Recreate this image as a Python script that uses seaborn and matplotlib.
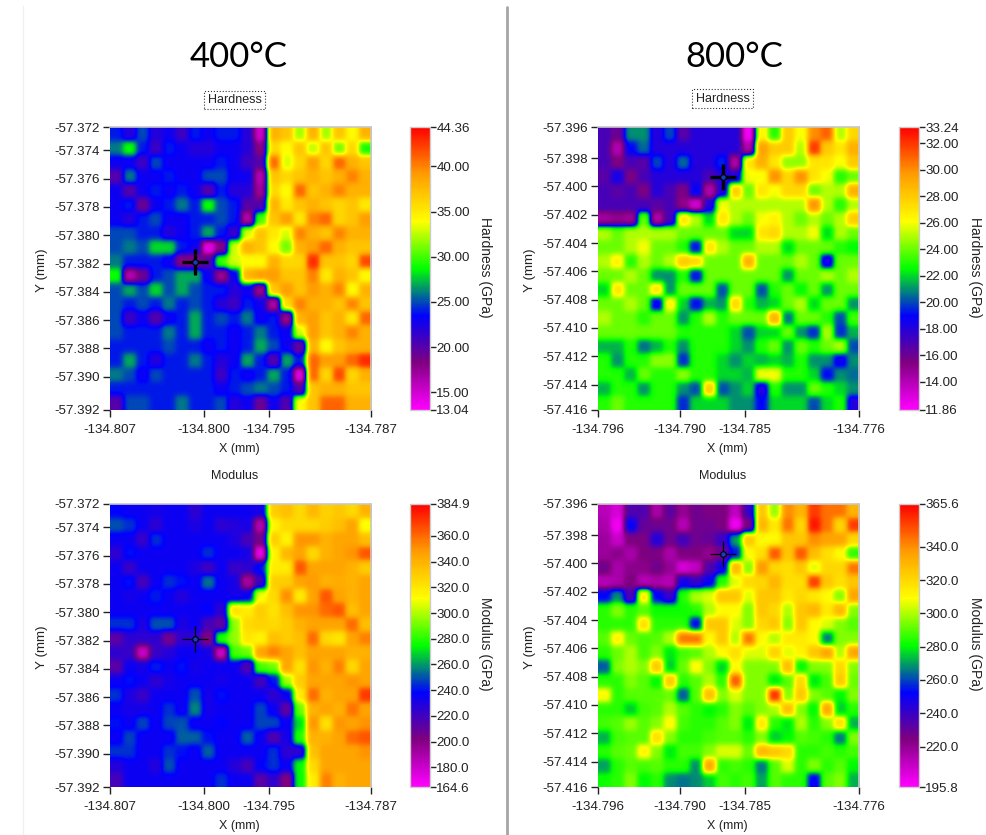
#!/usr/bin/env python3
"""Hardness and modulus maps at 400 and 800 C, nanoindentation style."""
import matplotlib.pyplot as plt
import numpy as np
import seaborn as sns
from matplotlib.colors import LinearSegmentedColormap
from matplotlib.lines import Line2D

WIDTH, HEIGHT = 986, 835

# values per cell, top row first
hardness_400 = [
    [24, 22, 25, 22, 23, 21, 24, 23, 24, 24, 22, 15, 38, 37, 32, 38, 32, 37, 34, 38],
    [26, 29, 24, 21, 24, 23, 22, 22, 23, 23, 22, 18, 36, 34, 37, 32.5, 37, 31, 36, 29],
    [23, 23, 21, 25, 23, 23, 23, 23, 24, 23, 21, 20, 41, 33, 36, 39, 36, 41, 38, 37],
    [20, 26, 23, 23, 24, 23, 23, 25, 25, 23, 23, 16, 37, 36, 37, 38, 37, 38, 40, 38],
    [23, 20, 23, 24, 23, 24, 23, 20, 24, 22, 22, 17, 36, 34, 41, 37, 38, 40, 38, 38],
    [23, 24, 19, 23, 24, 26, 24, 29, 25, 24, 20, 20, 38, 35, 37, 38, 37, 36, 37, 35],
    [23, 22, 24, 25, 23, 23, 24, 24, 25, 24, 16, 30, 37, 39, 35, 40, 41, 36, 37, 39],
    [25, 25, 24, 24, 22, 23, 24, 27, 24, 21, 33, 37, 35, 33, 40, 38, 37, 40, 38, 38],
    [25, 26, 25, 28, 28, 24, 23, 14, 18, 33, 38, 37, 34, 31, 38, 39, 41, 38, 37, 37],
    [26, 24, 24, 24, 23, 18, 18, 20, 30, 33, 34, 34, 38, 36, 36, 43, 37, 37, 36, 42],
    [29, 16, 19, 24, 25, 27, 27, 23, 17, 23, 38, 39, 39, 37, 37, 40, 35, 38, 37, 34],
    [25, 27, 25, 28, 25, 27, 25, 24, 24, 22, 23, 17, 37, 39, 37, 39, 38, 40, 34, 38],
    [25, 24, 25, 24, 26, 24, 25, 24, 22, 21, 24, 23, 16, 36, 40, 38, 38, 37, 40, 37],
    [25, 21, 23, 20, 23, 24, 27, 24, 25, 24, 26, 23, 24, 17, 38, 39, 37, 38, 35, 41],
    [25, 24, 24, 24, 26, 24, 27, 24, 24, 23, 24, 26, 24, 23, 33, 39, 37, 38, 40, 38],
    [24, 24, 24, 24, 25, 24, 24, 23, 24, 23, 24, 27, 25, 23, 19, 38, 34, 37, 38, 38],
    [24, 27, 24, 22, 24, 24, 26, 24, 22, 23, 27, 24, 20, 27, 24, 41, 39, 39, 41, 43],
    [26, 25, 23, 25, 24, 24, 24, 24, 21, 24, 23, 24, 27, 24, 14, 41, 36, 42, 36, 38],
    [24, 24, 24, 24, 24, 24, 24, 24, 23, 24, 25, 26, 25, 24, 20, 37, 38, 38, 37, 37],
    [20, 25, 25, 24, 24, 26, 24, 24, 25, 22, 23, 19, 23, 20, 34, 37, 41, 41, 38, 38],
]
hardness_800 = [
    [17, 16, 21, 21, 18, 20, 16.5, 18, 18, 18, 18, 12, 26.5, 23, 28, 26, 30, 31, 25, 27.5],
    [17, 14, 19, 20.5, 18, 18, 18, 18, 18, 18, 18, 14, 29.5, 28, 28, 25, 32, 28, 27, 29],
    [17, 15.5, 17, 16.5, 20, 18, 20.5, 18, 18, 19.5, 14, 27, 29, 27, 24.5, 24.5, 27, 27, 26, 28],
    [16.5, 18.5, 15.5, 17, 18, 18, 18, 18, 17, 18, 18, 26, 26, 30, 27.5, 30, 27, 26, 23, 24],
    [17, 16.5, 17, 15.5, 18, 17, 15.5, 19, 14, 18, 28, 24, 27, 26, 27.5, 27.5, 24, 25, 25, 29],
    [17, 17, 17, 17, 16.5, 17, 15, 13, 18, 26, 25, 25, 25, 25, 25, 25, 30, 25, 23, 25],
    [14.5, 15, 14.5, 24, 14, 17, 27, 25, 22, 27, 25, 24, 26, 26.5, 25, 24, 25, 24, 25, 28],
    [25, 24, 25, 25, 25, 25, 24, 24, 24, 24, 22, 22, 27, 27.5, 25, 25, 26, 22, 25, 24],
    [24, 24, 25, 26, 24, 24, 23, 19, 27, 25, 24, 24, 25, 25, 22, 24, 24, 24, 23, 22.5],
    [25, 26.5, 23, 25, 24, 25, 28, 27.5, 24, 24, 24, 29, 24, 24, 24, 25, 24, 18, 24, 24],
    [24, 24, 25, 24, 21, 21, 23, 19, 24, 24, 24, 24, 24, 24, 21, 24, 24, 25, 24, 25],
    [22, 27, 24, 24, 27, 21, 24, 24, 24, 20, 24, 24, 20, 23, 24, 22.5, 24, 21, 24, 24],
    [24, 24, 25, 24, 18.5, 26.5, 22, 19, 21.5, 21, 27.5, 23, 21.5, 22, 24, 25, 22, 24, 24, 21],
    [25, 24, 24, 23, 24, 24, 21, 23, 25, 23, 24, 24, 24, 29, 20.5, 24, 24, 23, 20, 23.5],
    [24, 24, 24, 24, 24, 24, 23, 23, 23, 23, 22, 20, 22, 22, 24, 21, 19.5, 25, 19.5, 21.5],
    [21.5, 21.5, 23, 20.5, 21.5, 23, 21, 23, 23, 23, 22, 21, 23, 24, 21, 24, 23, 24, 25, 20],
    [23, 21, 23, 23, 24.5, 24.5, 19.5, 23, 23, 22, 21, 22, 21.5, 22, 21.5, 23, 21, 21, 18.5, 21],
    [23, 23, 21.5, 24, 23, 23, 24.5, 23, 23, 22, 22, 21.5, 26, 26, 23, 23, 22, 19, 21, 20.5],
    [21.5, 23, 23, 21, 23, 23, 21, 20, 28, 20, 21, 22, 18, 23, 21, 21, 24, 23, 22, 21],
    [23, 24, 23, 23, 23, 23, 19.5, 22, 22, 22, 21, 21, 19, 22, 22, 22, 20, 22, 23, 18],
]
modulus_400 = [
    [238, 235, 235, 232, 235, 235, 225, 235, 235, 235, 235, 232, 330, 335, 325, 338, 328, 332, 325, 340],
    [250, 245, 235, 225, 235, 235, 230, 235, 225, 228, 232, 185, 315, 325, 325, 325, 330, 335, 345, 310],
    [235, 235, 222, 245, 235, 235, 235, 235, 235, 230, 218, 205, 330, 315, 350, 350, 340, 345, 345, 335],
    [225, 240, 235, 235, 235, 235, 235, 245, 235, 235, 232, 170, 315, 338, 345, 325, 340, 345, 350, 365],
    [235, 222, 235, 235, 235, 235, 230, 220, 235, 222, 225, 240, 318, 318, 365, 345, 345, 345, 340, 330],
    [235, 240, 218, 235, 245, 240, 235, 255, 235, 232, 190, 220, 330, 330, 345, 348, 340, 342, 340, 345],
    [235, 232, 235, 242, 235, 228, 235, 235, 235, 232, 235, 310, 325, 352, 318, 345, 365, 345, 340, 345],
    [235, 235, 235, 235, 235, 235, 235, 238, 225, 322, 318, 330, 322, 335, 350, 350, 360, 365, 335, 345],
    [245, 245, 230, 250, 250, 230, 235, 218, 210, 295, 325, 328, 325, 330, 340, 345, 345, 345, 360, 335],
    [212, 225, 225, 225, 205, 225, 225, 200, 280, 295, 320, 315, 335, 330, 335, 360, 325, 320, 345, 355],
    [225, 222, 180, 222, 228, 235, 235, 232, 178, 285, 290, 345, 355, 345, 335, 345, 345, 345, 340, 340],
    [212, 235, 232, 242, 235, 240, 232, 235, 235, 235, 215, 285, 290, 345, 322, 350, 340, 355, 325, 345],
    [235, 240, 235, 225, 232, 235, 235, 235, 232, 235, 235, 218, 240, 298, 330, 345, 345, 345, 350, 345],
    [245, 230, 222, 235, 235, 235, 250, 232, 240, 235, 235, 235, 225, 235, 318, 360, 340, 345, 345, 372],
    [235, 232, 232, 235, 245, 235, 258, 232, 235, 235, 235, 248, 235, 210, 290, 340, 345, 340, 358, 345],
    [240, 235, 248, 235, 248, 250, 235, 235, 238, 235, 235, 248, 248, 235, 270, 350, 322, 350, 345, 350],
    [235, 248, 235, 235, 235, 252, 252, 240, 235, 235, 252, 235, 215, 232, 280, 340, 340, 345, 360, 365],
    [245, 245, 235, 235, 245, 240, 235, 252, 235, 235, 235, 235, 245, 225, 225, 335, 345, 345, 345, 350],
    [228, 235, 235, 228, 250, 235, 235, 235, 235, 228, 218, 238, 245, 235, 275, 325, 345, 345, 345, 345],
    [218, 235, 235, 235, 235, 235, 235, 235, 245, 235, 235, 212, 225, 200, 275, 318, 355, 340, 345, 345],
]
modulus_800 = [
    [212, 205, 235, 235, 215, 232, 220, 228, 225, 225, 210, 240, 325, 297, 340, 330, 355, 345, 345, 330],
    [215, 198, 252, 230, 228, 228, 212, 228, 228, 225, 198, 225, 330, 315, 345, 320, 362, 345, 320, 355],
    [218, 208, 225, 225, 245, 228, 238, 228, 230, 240, 270, 325, 310, 310, 325, 325, 340, 335, 335, 320],
    [218, 222, 215, 225, 225, 215, 225, 225, 220, 228, 255, 310, 318, 350, 325, 350, 328, 318, 310, 285],
    [228, 215, 222, 222, 228, 220, 205, 210, 235, 248, 330, 295, 338, 320, 318, 325, 305, 320, 320, 345],
    [212, 215, 225, 212, 215, 212, 248, 240, 250, 285, 305, 320, 320, 330, 318, 318, 355, 325, 318, 325],
    [252, 268, 235, 315, 252, 240, 285, 300, 305, 325, 325, 305, 325, 325, 315, 320, 315, 310, 295, 335],
    [285, 295, 285, 290, 282, 282, 282, 285, 300, 310, 310, 295, 325, 320, 300, 325, 330, 315, 330, 295],
    [285, 285, 285, 318, 285, 285, 285, 252, 325, 325, 305, 295, 320, 325, 295, 325, 310, 305, 295, 290],
    [290, 312, 292, 288, 290, 300, 345, 345, 310, 325, 300, 345, 310, 300, 315, 315, 310, 265, 295, 295],
    [285, 292, 300, 288, 295, 278, 288, 290, 300, 310, 318, 305, 305, 322, 305, 312, 325, 335, 300, 335],
    [262, 295, 300, 295, 325, 275, 292, 310, 295, 275, 310, 295, 295, 295, 328, 280, 295, 295, 320, 295],
    [285, 285, 295, 290, 280, 325, 285, 290, 300, 285, 350, 295, 295, 278, 290, 320, 278, 288, 325, 292],
    [310, 285, 290, 290, 290, 292, 262, 290, 328, 295, 305, 295, 295, 358, 295, 325, 295, 290, 280, 295],
    [285, 285, 275, 288, 290, 300, 290, 285, 280, 285, 295, 290, 295, 300, 328, 295, 280, 335, 275, 285],
    [288, 290, 298, 290, 295, 310, 288, 285, 285, 290, 295, 278, 315, 285, 278, 300, 285, 295, 318, 272],
    [272, 288, 290, 290, 318, 295, 285, 285, 288, 290, 290, 285, 295, 275, 280, 290, 288, 285, 265, 295],
    [285, 290, 292, 312, 295, 278, 288, 288, 295, 305, 305, 292, 330, 325, 320, 285, 285, 288, 285, 288],
    [270, 285, 290, 288, 290, 285, 285, 268, 335, 285, 288, 285, 265, 290, 305, 285, 295, 285, 290, 280],
    [282, 285, 295, 280, 285, 268, 265, 268, 275, 288, 285, 288, 270, 290, 285, 285, 250, 290, 295, 272],
]

# colour scale ends
range_h400 = (13.04, 44.36)
range_h800 = (11.86, 33.24)
range_m400 = (164.6, 384.9)
range_m800 = (195.8, 365.6)

cbar_ticks_h400 = [13.04, 15, 20, 25, 30, 35, 40, 44.36]
cbar_labels_h400 = ["13.04", "15.00", "20.00", "25.00", "30.00", "35.00", "40.00", "44.36"]
cbar_ticks_h800 = [11.86, 14, 16, 18, 20, 22, 24, 26, 28, 30, 32, 33.24]
cbar_labels_h800 = ["11.86", "14.00", "16.00", "18.00", "20.00", "22.00", "24.00", "26.00",
                    "28.00", "30.00", "32.00", "33.24"]
cbar_ticks_m400 = [164.6, 180, 200, 220, 240, 260, 280, 300, 320, 340, 360, 384.9]
cbar_labels_m400 = ["164.6", "180.0", "200.0", "220.0", "240.0", "260.0", "280.0", "300.0",
                    "320.0", "340.0", "360.0", "384.9"]
cbar_ticks_m800 = [195.8, 220, 240, 260, 280, 300, 320, 340, 365.6]
cbar_labels_m800 = ["195.8", "220.0", "240.0", "260.0", "280.0", "300.0", "320.0", "340.0", "365.6"]

# stage limits and ticks in mm
x_lim_400 = (-134.807, -134.787)
y_lim_400 = (-57.372, -57.392)
x_lim_800 = (-134.796, -134.776)
y_lim_800 = (-57.396, -57.416)
x_ticks_400 = [-134.807, -134.7998, -134.7948, -134.787]
x_labels_400 = ["-134.807", "-134.800", "-134.795", "-134.787"]
x_ticks_800 = [-134.796, -134.7897, -134.7847, -134.776]
x_labels_800 = ["-134.796", "-134.790", "-134.785", "-134.776"]
y_ticks_400 = [-57.372, -57.37365, -57.37565, -57.37765, -57.37965, -57.38165,
               -57.38365, -57.38565, -57.38765, -57.38965, -57.392]
y_labels_400 = ["-57.372", "-57.374", "-57.376", "-57.378", "-57.380", "-57.382",
                "-57.384", "-57.386", "-57.388", "-57.390", "-57.392"]
y_ticks_800 = [-57.396, -57.3982, -57.4002, -57.4022, -57.4042, -57.4062,
               -57.4082, -57.4102, -57.4122, -57.4142, -57.416]
y_labels_800 = ["-57.396", "-57.398", "-57.400", "-57.402", "-57.404", "-57.406",
                "-57.408", "-57.410", "-57.412", "-57.414", "-57.416"]

# cursor position on each map, mm
cursor_400 = (-134.80046, -57.38154)
cursor_800 = (-134.78642, -57.39953)

map_cmap = LinearSegmentedColormap.from_list(
    "nano", ["#ff00ff", "#800080", "#0000ff", "#00ff00", "#ffff00", "#ff9d00", "#ff0000"], N=256
)


def fig_xy(px, py):
    return px / WIDTH, 1 - py / HEIGHT


def panel(fig, left, top, cbar_left, values, vrange, cticks, clabels, xlim, ylim, xticks, xlabels,
          yticks, ylabels, cursor, name, cursor_width, title_y=None):
    x0, y0 = fig_xy(left, top + 283)
    ax = fig.add_axes([x0, y0, 261.5 / WIDTH, 283 / HEIGHT])
    cx0, _ = fig_xy(cbar_left, 0)
    cax = fig.add_axes([cx0, y0, 19.5 / WIDTH, 283 / HEIGHT])

    data = np.array(values, dtype=float)
    sns.heatmap(data, ax=ax, cbar_ax=cax, cmap=map_cmap, vmin=vrange[0], vmax=vrange[1],
                xticklabels=False, yticklabels=False)
    # the source software softens the cell edges when it paints them; each cell stays one value
    blocks = np.repeat(np.repeat(data, 2, axis=0), 2, axis=1)
    ax.imshow(blocks, cmap=map_cmap, vmin=vrange[0], vmax=vrange[1], aspect="auto",
              extent=(0, 20, 20, 0), interpolation="gaussian", interpolation_stage="data", zorder=2)
    ax.set_xlim(0, 20)
    ax.set_ylim(20, 0)

    to_x = lambda v: (np.asarray(v) - xlim[0]) / (xlim[1] - xlim[0]) * 20
    to_y = lambda v: (np.asarray(v) - ylim[0]) / (ylim[1] - ylim[0]) * 20
    ax.set_xticks(to_x(xticks), xlabels)
    ax.set_yticks(to_y(yticks), ylabels, rotation=0)
    ax.tick_params(length=5, width=1, color="#222222", labelcolor="#222222", labelsize=9.6, pad=2,
                   bottom=True, left=True)
    ax.tick_params(axis="x", pad=5)

    for side, spine in ax.spines.items():
        spine.set_visible(side in ("top", "right"))
        spine.set_color("#c8c8c8")
        spine.set_linewidth(1.2)
        spine.set_zorder(3)

    cx, cy = to_x(cursor[0]), to_y(cursor[1])
    ax.plot(cx, cy, marker="+", ms=19, mew=cursor_width, color="black", zorder=5)
    ax.plot(cx, cy, marker="o", ms=4, mew=0.8, mfc="#1040c0", mec="black", zorder=6)

    cbar = ax.collections[0].colorbar
    cbar.set_ticks(cticks, labels=clabels)
    cbar.outline.set_visible(True)
    cbar.outline.set_edgecolor("#cccccc")
    cbar.outline.set_linewidth(1)
    cax.tick_params(length=4, width=1, color="#222222", labelcolor="#222222", labelsize=9.6, pad=1, right=True)

    tx, ty = fig_xy(left + 130, top + 322)
    fig.text(tx, ty, "X (mm)", ha="center", va="center", fontsize=9, color="#222222")
    tx, ty = fig_xy(left - 68, top + 143)
    fig.text(tx, ty, "Y (mm)", ha="center", va="center", rotation=90, fontsize=9.6, color="#222222")
    tx, ty = fig_xy(cbar_left + 75.5, top + 140)
    fig.text(tx, ty, f"{name} (GPa)", ha="center", va="center", rotation=270, fontsize=10, color="#222222")
    title_box = None
    if title_y is not None:
        title_box = dict(boxstyle="square,pad=0.25", fc="white", ec="#333333", ls=":", lw=0.8)
    tx, ty = fig_xy(left + 125, title_y if title_y is not None else top - 28)
    fig.text(tx, ty, name, ha="center", va="center", fontsize=9, color="#222222", bbox=title_box)


def main():
    sns.set_theme(style="white")
    plt.rcParams["font.family"] = ["Liberation Sans", "DejaVu Sans"]

    fig = plt.figure(figsize=(WIDTH / 100, HEIGHT / 100), dpi=100, facecolor="white")

    panel(fig, 109.5, 127, 410, hardness_400, range_h400, cbar_ticks_h400, cbar_labels_h400,
          x_lim_400, y_lim_400, x_ticks_400, x_labels_400, y_ticks_400, y_labels_400,
          cursor_400, "Hardness", 2.4, 100)
    panel(fig, 597.5, 127, 899, hardness_800, range_h800, cbar_ticks_h800, cbar_labels_h800,
          x_lim_800, y_lim_800, x_ticks_800, x_labels_800, y_ticks_800, y_labels_800,
          cursor_800, "Hardness", 2.4, 98.5)
    panel(fig, 109.5, 504, 410, modulus_400, range_m400, cbar_ticks_m400, cbar_labels_m400,
          x_lim_400, y_lim_400, x_ticks_400, x_labels_400, y_ticks_400, y_labels_400,
          cursor_400, "Modulus", 0.9)
    panel(fig, 597.5, 504, 899, modulus_800, range_m800, cbar_ticks_m800, cbar_labels_m800,
          x_lim_800, y_lim_800, x_ticks_800, x_labels_800, y_ticks_800, y_labels_800,
          cursor_800, "Modulus", 0.9)

    for label, px in (("400°C", 239), ("800°C", 734)):
        tx, ty = fig_xy(px, 57)
        fig.text(tx, ty, label, ha="center", va="center", fontsize=25, family="Lato", color="black")

    x_line, y_top = fig_xy(506.5, 7)
    fig.add_artist(Line2D([x_line, x_line], [y_top, 0], color="#a6a6a6", lw=2))
    x_faint, y_faint = fig_xy(23, 6)
    fig.add_artist(Line2D([x_faint, x_faint], [y_faint, 0], color="#f0f0f0", lw=1))

    fig.savefig("out.png", dpi=100)


if __name__ == "__main__":
    main()
